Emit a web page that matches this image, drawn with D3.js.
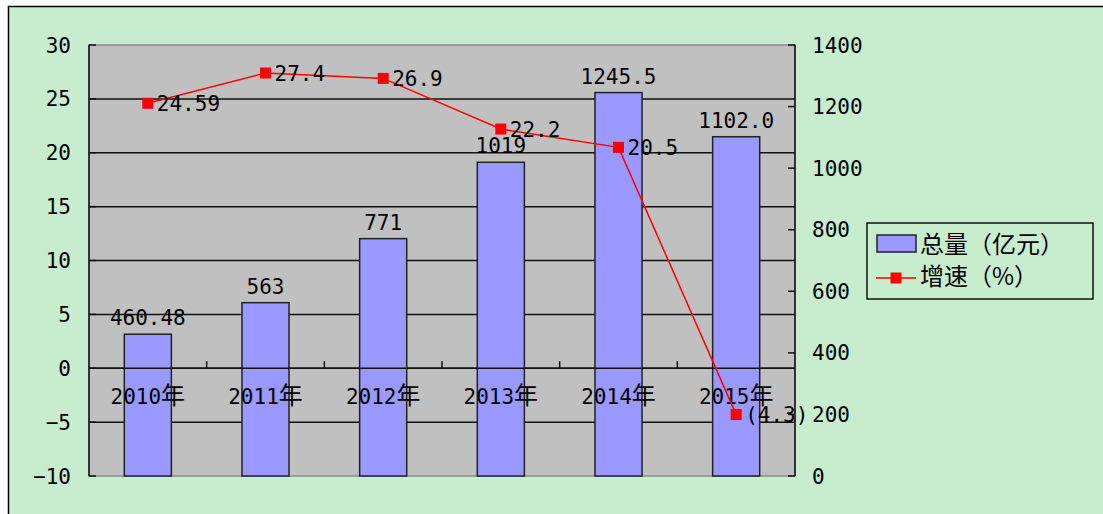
<!DOCTYPE html>
<html>
<head>
<meta charset="utf-8">
<script src="https://unpkg.com/d3@7/dist/d3.min.js"></script>
<style>
  body { margin: 0; background: #fff; }
  text { font-family: "DejaVu Sans Mono", "Noto Sans CJK SC", monospace; fill: #000; }
  .cjk { font-family: "Noto Sans CJK SC", sans-serif; }
</style>
</head>
<body>
<svg id="chart" width="1103" height="514"></svg>
<script>
// chart data
var years = ["2010", "2011", "2012", "2013", "2014", "2015"];
var totals = [460.48, 563, 771, 1019, 1245.5, 1102.0];
var totalLabels = ["460.48", "563", "771", "1019", "1245.5", "1102.0"];
var growth = [24.59, 27.4, 26.9, 22.2, 20.5, -4.3];
var growthLabels = ["24.59", "27.4", "26.9", "22.2", "20.5", "(4.3)"];
var leftTicks = [-10, -5, 0, 5, 10, 15, 20, 25, 30];
var rightTicks = [0, 200, 400, 600, 800, 1000, 1200, 1400];
var legendNames = ["总量（亿元）", "增速（%）"];

var svg = d3.select("#chart");

// plot box
var pLeft = 89, pRight = 795, pTop = 45, pBottom = 476;

// green frame
svg.append("rect")
    .attr("x", 8.5).attr("y", 6.5)
    .attr("width", 1110).attr("height", 520)
    .attr("fill", "#c8ecce")
    .attr("stroke", "#000").attr("stroke-width", 1.5);

// scales
var x = d3.scaleBand().domain(years).range([pLeft, pRight]).padding(0);
var yL = d3.scaleLinear().domain([-10, 30]).range([pBottom, pTop]);
var yR = d3.scaleLinear().domain([0, 1400]).range([pBottom, pTop]);

// plot background
svg.append("rect")
    .attr("x", pLeft).attr("y", pTop)
    .attr("width", pRight - pLeft).attr("height", pBottom - pTop)
    .attr("fill", "#c0c0c0")
    .attr("stroke", "#8a8a8a").attr("stroke-width", 1.5);

// gridlines
svg.append("g")
    .selectAll("line")
    .data(leftTicks.filter(function(d){ return d != -10 && d != 30; }))
    .enter().append("line")
    .attr("x1", pLeft).attr("x2", pRight)
    .attr("y1", function(d){ return yL(d); })
    .attr("y2", function(d){ return yL(d); })
    .attr("stroke", "#111").attr("stroke-width", 1.5);

// bars
var barW = x.bandwidth() * 0.4;
svg.append("g")
    .selectAll("rect")
    .data(totals)
    .enter().append("rect")
    .attr("x", function(d, i){ return x(years[i]) + x.bandwidth()/2 - barW/2; })
    .attr("y", function(d){ return yR(d); })
    .attr("width", barW)
    .attr("height", function(d){ return pBottom - yR(d); })
    .attr("fill", "#9999ff")
    .attr("stroke", "#222").attr("stroke-width", 1.5);

// category axis at zero
svg.append("line")
    .attr("x1", pLeft).attr("x2", pRight)
    .attr("y1", yL(0)).attr("y2", yL(0))
    .attr("stroke", "#111").attr("stroke-width", 1.5);
svg.append("g")
    .selectAll("line")
    .data(years.slice(1))
    .enter().append("line")
    .attr("x1", function(d){ return x(d); })
    .attr("x2", function(d){ return x(d); })
    .attr("y1", yL(0)).attr("y2", yL(0) - 7)
    .attr("stroke", "#111").attr("stroke-width", 1.5);

// category labels
var cat = svg.append("g")
    .selectAll("text")
    .data(years)
    .enter().append("text")
    .attr("x", function(d){ return x(d) + x.bandwidth()/2; })
    .attr("y", yL(0) + 36)
    .attr("text-anchor", "middle")
    .style("font-size", "21px");
cat.append("tspan").text(function(d){ return d; });
cat.append("tspan").attr("class", "cjk").style("font-size", "24px").text("年");

// left axis
svg.append("line")
    .attr("x1", pLeft).attr("x2", pLeft)
    .attr("y1", pTop).attr("y2", pBottom)
    .attr("stroke", "#111").attr("stroke-width", 1.5);
svg.append("g")
    .selectAll("line")
    .data(leftTicks)
    .enter().append("line")
    .attr("x1", pLeft).attr("x2", pLeft + 7)
    .attr("y1", function(d){ return yL(d); })
    .attr("y2", function(d){ return yL(d); })
    .attr("stroke", "#111").attr("stroke-width", 1.5);
svg.append("g")
    .selectAll("text")
    .data(leftTicks)
    .enter().append("text")
    .attr("x", pLeft - 18)
    .attr("y", function(d){ return yL(d); })
    .attr("dy", "0.36em")
    .attr("text-anchor", "end")
    .style("font-size", "21px")
    .text(function(d){ return d < 0 ? "\u2212" + (-d) : d; });

// right axis
svg.append("line")
    .attr("x1", pRight).attr("x2", pRight)
    .attr("y1", pTop).attr("y2", pBottom)
    .attr("stroke", "#111").attr("stroke-width", 1.5);
svg.append("g")
    .selectAll("line")
    .data(rightTicks)
    .enter().append("line")
    .attr("x1", pRight - 7).attr("x2", pRight)
    .attr("y1", function(d){ return yR(d); })
    .attr("y2", function(d){ return yR(d); })
    .attr("stroke", "#111").attr("stroke-width", 1.5);
svg.append("g")
    .selectAll("text")
    .data(rightTicks)
    .enter().append("text")
    .attr("x", pRight + 17)
    .attr("y", function(d){ return yR(d); })
    .attr("dy", "0.36em")
    .style("font-size", "21px")
    .text(function(d){ return d; });

// bar labels
svg.append("g")
    .selectAll("text")
    .data(totals)
    .enter().append("text")
    .attr("x", function(d, i){ return x(years[i]) + x.bandwidth()/2; })
    .attr("y", function(d){ return yR(d) - 9; })
    .attr("text-anchor", "middle")
    .style("font-size", "21px")
    .text(function(d, i){ return totalLabels[i]; });

// growth line
var cx = function(i){ return x(years[i]) + x.bandwidth()/2; };
var line = d3.line()
    .x(function(d, i){ return cx(i); })
    .y(function(d){ return yL(d); });
svg.append("path")
    .datum(growth)
    .attr("d", line)
    .attr("fill", "none")
    .attr("stroke", "#ff0000").attr("stroke-width", 1.5);
svg.append("g")
    .selectAll("rect")
    .data(growth)
    .enter().append("rect")
    .attr("x", function(d, i){ return cx(i) - 5.5; })
    .attr("y", function(d){ return yL(d) - 5.5; })
    .attr("width", 11).attr("height", 11)
    .attr("fill", "#ff0000");
svg.append("g")
    .selectAll("text")
    .data(growth)
    .enter().append("text")
    .attr("x", function(d, i){ return cx(i) + 9; })
    .attr("y", function(d){ return yL(d); })
    .attr("dy", "0.36em")
    .style("font-size", "21px")
    .text(function(d, i){ return growthLabels[i]; });

// legend
var lg = svg.append("g").attr("transform", "translate(867,223)");
lg.append("rect")
    .attr("width", 226).attr("height", 76)
    .attr("fill", "#c8ecce")
    .attr("stroke", "#111").attr("stroke-width", 1.5);
lg.append("rect")
    .attr("x", 10).attr("y", 12).attr("width", 39).attr("height", 17)
    .attr("fill", "#9999ff").attr("stroke", "#222").attr("stroke-width", 1.5);
lg.append("line")
    .attr("x1", 9).attr("x2", 49).attr("y1", 55).attr("y2", 55)
    .attr("stroke", "#ff0000").attr("stroke-width", 1.5);
lg.append("rect")
    .attr("x", 23.5).attr("y", 49.5).attr("width", 11).attr("height", 11)
    .attr("fill", "#ff0000");
lg.selectAll("text.leg")
    .data(legendNames)
    .enter().append("text")
    .attr("class", "cjk")
    .attr("x", 53)
    .attr("y", function(d, i){ return 21 + i * 32; })
    .attr("dy", "0.36em")
    .style("font-size", "24px")
    .text(function(d){ return d; });
</script>
</body>
</html>
